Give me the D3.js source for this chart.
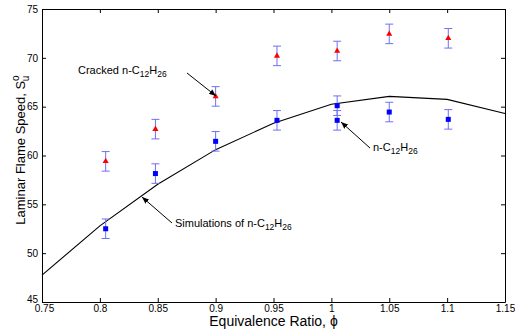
<!DOCTYPE html>
<html>
<head>
<meta charset="utf-8">
<script src="https://cdn.jsdelivr.net/npm/d3@7"></script>
<style>
  body { margin: 0; background: #fff; }
  svg { font-family: "Liberation Sans", Arial, sans-serif; }
</style>
</head>
<body>
<div id="chart"></div>
<script>
// Data
const crackedPhi = [0.805, 0.848, 0.900, 0.953, 1.005, 1.050, 1.101];
const crackedSpeed = [59.4, 62.7, 66.05, 70.2, 70.7, 72.45, 72.0];
const crackedErr = [1.0, 1.0, 1.0, 1.0, 1.0, 1.0, 1.0];

const dodecPhi = [0.805, 0.848, 0.900, 0.953, 1.005, 1.005, 1.050, 1.101];
const dodecSpeed = [52.5, 58.15, 61.45, 63.6, 65.1, 63.6, 64.45, 63.7];
const dodecErr = [1.0, 1.0, 1.0, 1.0, 1.0, 1.0, 1.0, 1.0];

const simPhi = [0.75, 0.80, 0.85, 0.90, 0.95, 1.00, 1.05, 1.10, 1.15];
const simSpeed = [47.75, 52.8, 57.05, 60.6, 63.3, 65.25, 66.05, 65.75, 64.3];

const xTicks = [0.75, 0.8, 0.85, 0.9, 0.95, 1, 1.05, 1.1, 1.15];
const yTicks = [45, 50, 55, 60, 65, 70, 75];

const margin = {top: 9, right: 10, bottom: 30, left: 42};
const width = 515 - margin.left - margin.right;
const height = 332 - margin.top - margin.bottom;

const svg = d3.select("#chart")
    .append("svg")
    .attr("width", 515)
    .attr("height", 332);

const g = svg.append("g")
    .attr("transform", `translate(${margin.left},${margin.top})`);

const x = d3.scaleLinear().domain([0.75, 1.15]).range([0, width]);
const y = d3.scaleLinear().domain([45, 75]).range([height, 0]);

// Axes (box with inward ticks)
const tickLen = 4;
const bottomAxis = g.append("g")
    .attr("transform", `translate(0,${height})`)
    .call(d3.axisBottom(x).tickValues(xTicks).tickSizeInner(-tickLen).tickSizeOuter(0)
        .tickFormat(d3.format("")));
const leftAxis = g.append("g")
    .call(d3.axisLeft(y).tickValues(yTicks).tickSizeInner(-tickLen).tickSizeOuter(0));
g.append("g")
    .call(d3.axisTop(x).tickValues(xTicks).tickSizeInner(-tickLen).tickSizeOuter(0).tickFormat(""));
g.append("g")
    .attr("transform", `translate(${width},0)`)
    .call(d3.axisRight(y).tickValues(yTicks).tickSizeInner(-tickLen).tickSizeOuter(0).tickFormat(""));

g.selectAll(".domain").attr("stroke", "#000");
g.selectAll(".tick line").attr("stroke", "#000");
bottomAxis.selectAll("text").style("font-size", "10px").attr("fill", "#000")
    .attr("font-family", "Liberation Sans");
leftAxis.selectAll("text").attr("x", -4).style("font-size", "10px").attr("fill", "#000")
    .attr("font-family", "Liberation Sans");
// corner labels sit close together, nudge them apart a little
leftAxis.selectAll(".tick text").filter(d => d === 45).attr("dy", "0.05em");
bottomAxis.selectAll(".tick text").filter(d => d === 0.75).attr("dx", "0.2em");

// Simulation line
const line = d3.line()
    .x((d, i) => x(simPhi[i]))
    .y((d, i) => y(simSpeed[i]));
g.append("path")
    .datum(simPhi)
    .attr("d", line)
    .attr("fill", "none")
    .attr("stroke", "#000")
    .attr("stroke-width", 1.1);

// Error bars
const errColor = "#6f6ff5";
const cap = 4;
function drawErrors(phis, vals, errs) {
    const eg = g.append("g");
    phis.forEach((p, i) => {
        const cx = x(p);
        const y1 = y(vals[i] + errs[i]);
        const y2 = y(vals[i] - errs[i]);
        eg.append("line").attr("x1", cx).attr("x2", cx).attr("y1", y1).attr("y2", y2)
            .attr("stroke", errColor).attr("stroke-width", 1);
        eg.append("line").attr("x1", cx - cap).attr("x2", cx + cap).attr("y1", y1).attr("y2", y1)
            .attr("stroke", errColor).attr("stroke-width", 1);
        eg.append("line").attr("x1", cx - cap).attr("x2", cx + cap).attr("y1", y2).attr("y2", y2)
            .attr("stroke", errColor).attr("stroke-width", 1);
    });
}
drawErrors(crackedPhi, crackedSpeed, crackedErr);
drawErrors(dodecPhi, dodecSpeed, dodecErr);

// Markers
g.selectAll(".tri")
    .data(crackedPhi)
    .enter()
    .append("path")
    .attr("class", "tri")
    .attr("d", d3.symbol().type(d3.symbolTriangle).size(16))
    .attr("transform", (d, i) => `translate(${x(d)},${y(crackedSpeed[i])})`)
    .attr("fill", "#ff0000");

g.selectAll(".sq")
    .data(dodecPhi)
    .enter()
    .append("rect")
    .attr("class", "sq")
    .attr("x", d => x(d) - 2.5)
    .attr("y", (d, i) => y(dodecSpeed[i]) - 2.5)
    .attr("width", 5)
    .attr("height", 5)
    .attr("fill", "#0000ff");

// Arrow marker
svg.append("defs").append("marker")
    .attr("id", "arrow")
    .attr("viewBox", "0 0 10 10")
    .attr("refX", 10)
    .attr("refY", 5)
    .attr("markerWidth", 7)
    .attr("markerHeight", 7)
    .attr("orient", "auto")
    .attr("markerUnits", "userSpaceOnUse")
    .append("path")
    .attr("d", "M0,1 L10,5 L0,9 Z")
    .attr("fill", "#000");

// Annotations (page coordinates)
function annotate(tx, ty, x1, y1, x2, y2, prefix) {
    svg.append("line")
        .attr("x1", x1).attr("y1", y1).attr("x2", x2).attr("y2", y2)
        .attr("stroke", "#000").attr("stroke-width", 1)
        .attr("marker-end", "url(#arrow)");
    const t = svg.append("text")
        .attr("x", tx).attr("y", ty)
        .style("font-size", "11px")
        .attr("fill", "#000");
    t.append("tspan").text(prefix + "n-C");
    t.append("tspan").attr("dy", 3).style("font-size", "8.5px").text("12");
    t.append("tspan").attr("dy", -3).text("H");
    t.append("tspan").attr("dy", 3).style("font-size", "8.5px").text("26");
}
annotate(78, 74, 187, 73, 216, 96, "Cracked ");
annotate(373, 151, 370, 148, 341, 122, "");
annotate(175, 227, 172, 223, 142, 197, "Simulations of ");

// Axis labels
svg.append("text")
    .attr("x", margin.left + width / 2)
    .attr("y", 326)
    .attr("text-anchor", "middle")
    .style("font-size", "14px")
    .attr("fill", "#000")
    .text("Equivalence Ratio, \u03d5");

const yl = svg.append("text")
    .attr("transform", "translate(25,150) rotate(-90)")
    .attr("text-anchor", "middle")
    .style("font-size", "13px")
    .attr("fill", "#000");
yl.append("tspan").text("Laminar Flame Speed, S");
yl.append("tspan").attr("dy", -6).style("font-size", "10px").text("o");
yl.append("tspan").attr("dx", -6).attr("dy", 10).style("font-size", "10px").text("u");
</script>
</body>
</html>
